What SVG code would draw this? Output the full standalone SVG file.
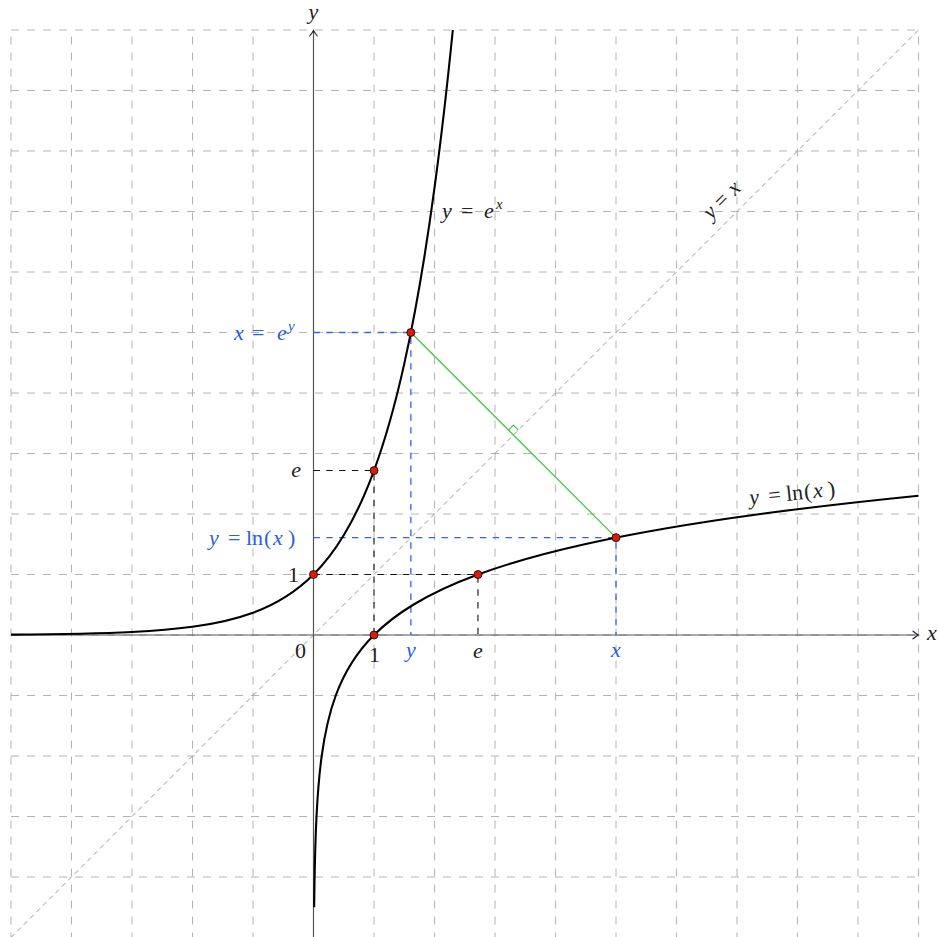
<svg xmlns="http://www.w3.org/2000/svg" width="938" height="937" viewBox="0 0 938 937">
<style>
  .grid { stroke: #b4b4b4; stroke-width: 1; fill: none; stroke-dasharray: 8 8; }
  .diag { stroke: #8c8c8c; stroke-width: 0.9; fill: none; stroke-dasharray: 5 4; }
  .axis { stroke: #555; stroke-width: 1.2; fill: none; }
  .arrow { stroke: #222; stroke-width: 1.1; fill: none; stroke-linecap: round; }
  .curve { stroke: #000; stroke-width: 2.1; fill: none; }
  .bdash { stroke: #111; stroke-width: 1.1; fill: none; stroke-dasharray: 6.4 6.4; }
  .udash { stroke: #3463e0; stroke-width: 1.3; fill: none; stroke-dasharray: 6.4 6.4; }
  .green { stroke: #2ec62e; stroke-width: 1.1; fill: none; }
  .pt { fill: #e01a0a; stroke: #000; stroke-width: 0.8; }
  text { font-family: "Liberation Serif", "DejaVu Serif", serif; font-size: 22px; fill: #222; }
  .it { font-style: italic; }
  .blue { fill: #2b5fd9; }
  .sup { font-size: 15px; font-style: italic; }
</style>

<g id="grid">
  <path class="grid" d="M11,30 H918.5 M11,90.5 H918.5 M11,151 H918.5 M11,211.5 H918.5 M11,272 H918.5 M11,332.5 H918.5 M11,393 H918.5 M11,453.5 H918.5 M11,514 H918.5 M11,574.5 H918.5 M11,635 H918.5 M11,695.5 H918.5 M11,756 H918.5 M11,816.5 H918.5 M11,877 H918.5 M11,937.5 H918.5"/>
  <path class="grid" stroke-dashoffset="9.5" d="M11,30 V937.5 M71.5,30 V937.5 M132,30 V937.5 M192.5,30 V937.5 M253,30 V937.5 M313.5,30 V937.5 M374,30 V937.5 M434.5,30 V937.5 M495,30 V937.5 M555.5,30 V937.5 M616,30 V937.5 M676.5,30 V937.5 M737,30 V937.5 M797.5,30 V937.5 M858,30 V937.5 M918.5,30 V937.5"/>
</g>

<g id="diagonal">
  <path class="diag" d="M11,937.5 L918.5,30"/>
</g>

<g id="axes">
  <path class="axis" d="M11,635 H918"/>
  <path class="axis" d="M313.5,937.5 V30.5"/>
  <path class="arrow" d="M913,631.2 Q916.5,634 918.5,635 Q916.5,636 913,638.8"/>
  <path class="arrow" d="M309.7,36 Q312.5,32.5 313.5,30.5 Q314.5,32.5 317.3,36"/>
</g>

<g id="connectors">
  <path class="bdash" d="M313.5,470.54 H374 V635"/>
  <path class="bdash" d="M313.5,574.5 H477.96 V635"/>
  <path class="udash" d="M313.5,332.5 H410.87 V635"/>
  <path class="udash" d="M313.5,537.63 H616 V635"/>
  <path class="green" d="M410.87,332.5 L616,537.63"/>
  <path class="green" d="M508.5,430.1 L513.4,425.2 L518.4,430.1"/>
</g>

<g id="curve-exp">
  <path class="curve" d="M11,634.59 C51.33,634.32 91.67,634 132,631.99 C152.17,630.98 172.33,629.54 192.5,626.81 C212.67,624.08 232.83,620.16 253,612.74 C273.17,605.32 293.33,594.67 313.5,574.5 C323.58,564.42 333.67,551.88 343.75,535.25 C353.83,518.63 363.92,497.95 374,470.54 C384.08,443.14 394.17,409.05 404.25,363.86 C414.33,318.67 424.42,262.47 434.5,187.96 C440.6,142.87 446.7,91.02 452.81,30"/>
</g>

<g id="curve-ln">
  <path class="curve" d="M314.17,907.25 C314.51,877 315.01,846.75 316.51,816.5 C317.52,796.33 318.96,776.17 321.69,756 C324.42,735.83 328.34,715.67 335.76,695.5 C343.18,675.33 353.83,655.17 374,635 C384.08,624.92 396.62,614.83 413.25,604.75 C429.87,594.67 450.55,584.58 477.96,574.5 C505.37,564.42 539.45,554.33 584.64,544.25 C629.83,534.17 686.03,524.08 760.54,514 C805.63,507.9 857.48,501.8 918.5,495.69"/>
</g>

<g id="points">
  <circle class="pt" cx="313.5" cy="574.5" r="4"/>
  <circle class="pt" cx="374" cy="635" r="4"/>
  <circle class="pt" cx="374" cy="470.54" r="4"/>
  <circle class="pt" cx="477.96" cy="574.5" r="4"/>
  <circle class="pt" cx="410.87" cy="332.5" r="4"/>
  <circle class="pt" cx="616" cy="537.63" r="4"/>
</g>

<g id="labels">
  <text class="it" x="927" y="640">x</text>
  <text class="it" x="313.5" y="19" text-anchor="middle">y</text>
  <text x="300.5" y="658" text-anchor="middle">0</text>
  <text x="374.5" y="662" text-anchor="middle">1</text>
  <text class="it blue" x="411" y="657" text-anchor="middle">y</text>
  <text class="it" x="478" y="658" text-anchor="middle">e</text>
  <text class="it blue" x="616" y="657" text-anchor="middle">x</text>
  <text x="299" y="582" text-anchor="end">1</text>
  <text class="it" x="301" y="477" text-anchor="end">e</text>

  <text class="blue" y="340"><tspan class="it" x="234">x</tspan><tspan x="252">=</tspan><tspan class="it" x="277">e</tspan><tspan class="sup" x="288" dy="-9">y</tspan></text>
  <text class="blue" y="545"><tspan class="it" x="209">y</tspan><tspan x="228">=</tspan><tspan x="246">ln</tspan><tspan x="264">(</tspan><tspan class="it" x="273">x</tspan><tspan x="288">)</tspan></text>

  <text y="218"><tspan class="it" x="442">y</tspan><tspan x="461">=</tspan><tspan class="it" x="484">e</tspan><tspan class="sup" x="496" dy="-9">x</tspan></text>

  <text transform="rotate(-6 795 493)" y="500"><tspan class="it" x="749">y</tspan><tspan x="768">=</tspan><tspan x="786">ln</tspan><tspan x="804">(</tspan><tspan class="it" x="813">x</tspan><tspan x="828">)</tspan></text>

  <text transform="translate(724 199) rotate(-45)" y="6"><tspan class="it" x="-24">y</tspan><tspan x="-9">=</tspan><tspan class="it" x="10">x</tspan></text>
</g>
</svg>
